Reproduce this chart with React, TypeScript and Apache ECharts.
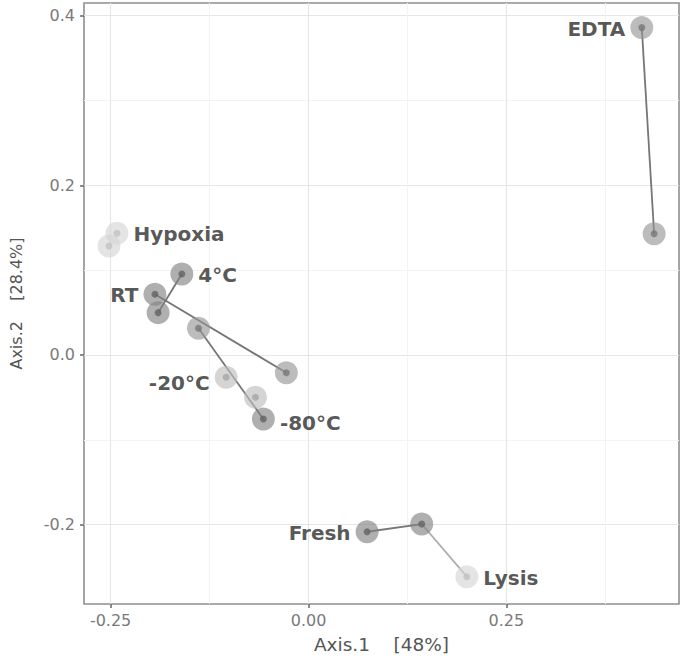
import React, { useEffect, useRef } from "react";
import * as echarts from "echarts";

// Ordination points (Axis.1, Axis.2) and their grey shade level
const pointX = [0.421, 0.4366, -0.242, -0.252, -0.16, -0.194, -0.19, -0.139, -0.028, -0.104, -0.067, -0.057, 0.074, 0.143, 0.2];
const pointY = [0.386, 0.143, 0.1435, 0.1285, 0.0955, 0.0716, 0.0499, 0.0315, -0.0209, -0.0263, -0.0499, -0.0755, -0.2084, -0.1993, -0.2614];
const pointShade = ["mid", "mid", "light", "light", "dark", "dark", "dark", "mid", "mid", "pale", "pale", "dark", "dark", "dark", "light"];

// Segments joining paired samples (indices into the point arrays)
const segFrom = [0, 4, 5, 7, 12, 13];
const segTo = [1, 6, 8, 11, 13, 14];
const segShade = ["dark", "dark", "dark", "dark", "dark", "light"];

// Group labels attached to points
const labelText = ["EDTA", "Hypoxia", "4°C", "RT", "-20°C", "-80°C", "Fresh", "Lysis"];
const labelPoint = [0, 2, 4, 5, 9, 11, 12, 14];
const labelSide = ["left", "right", "right", "left", "left", "right", "left", "right"];

const xMajor = [-0.25, 0, 0.25];
const xMinor = [-0.125, 0.125, 0.375];
const yMajor = [-0.2, 0, 0.2, 0.4];
const yMinor = [-0.1, 0.1, 0.3];

const xTitle = "Axis.1    [48%]";
const yTitle = "Axis.2    [28.4%]";

const outerColor: Record<string, string> = {
  dark: "rgba(130,130,130,0.8)",
  mid: "rgba(150,150,150,0.8)",
  pale: "rgba(190,190,190,0.8)",
  light: "rgba(212,212,212,0.8)",
};
const innerColor: Record<string, string> = {
  dark: "#636363",
  mid: "#777777",
  pale: "#a6a6a6",
  light: "#c2c2c2",
};
const segColor: Record<string, string> = { dark: "#767676", light: "#adadad" };

const FONT = "DejaVu Sans";

export default function App() {
  const ref = useRef<HTMLDivElement>(null);
  useEffect(() => {
    if (!ref.current) return;
    const chart = echarts.init(ref.current, null, { renderer: "svg" });

    const labelMap: Record<number, { text: string; side: string }> = {};
    labelPoint.forEach((p, i) => (labelMap[p] = { text: labelText[i], side: labelSide[i] }));

    const outerData = pointX.map((x, i) => {
      const item: any = {
        value: [x, pointY[i]],
        itemStyle: { color: outerColor[pointShade[i]] },
      };
      if (labelMap[i]) {
        item.label = {
          show: true,
          formatter: labelMap[i].text,
          position: labelMap[i].side,
          distance: 5,
          offset: labelMap[i].text === "-20°C" ? [0, 6] : labelMap[i].text === "-80°C" ? [0, 4] : [0, 1],
        };
      }
      return item;
    });
    const innerData = pointX.map((x, i) => ({
      value: [x, pointY[i]],
      itemStyle: { color: innerColor[pointShade[i]] },
    }));

    const segSeries = segFrom.map((f, k) => ({
      type: "line",
      xAxisIndex: 0,
      yAxisIndex: 0,
      data: [
        [pointX[f], pointY[f]],
        [pointX[segTo[k]], pointY[segTo[k]]],
      ],
      symbol: "none",
      lineStyle: { color: segColor[segShade[k]], width: 1.8 },
      silent: true,
      z: 2,
    }));

    const axisCommon = {
      type: "value",
      axisLine: { show: false, onZero: false },
    };

    chart.setOption({
      animation: false,
      grid: {
        left: 80,
        right: 6,
        top: 3,
        bottom: 56,
        show: true,
        borderColor: "#8f8f8f",
        borderWidth: 1.6,
        backgroundColor: "transparent",
      },
      xAxis: [
        {
          ...axisCommon,
          min: -0.2836,
          max: 0.468,
          position: "bottom",
          axisTick: { show: true, customValues: xMajor, length: 4, lineStyle: { color: "#666", width: 1.5 } },
          axisLabel: {
            customValues: xMajor,
            formatter: (v: number) => v.toFixed(2),
            color: "#7a7a7a",
            fontFamily: FONT,
            fontSize: 16,
            margin: 8,
          },
          splitLine: { show: true, lineStyle: { color: "#e6e6e6", width: 1.2 } },
          name: xTitle,
          nameLocation: "middle",
          nameGap: 31,
          nameTextStyle: { color: "#555", fontFamily: FONT, fontSize: 18.5 },
        },
        {
          ...axisCommon,
          min: -0.2836,
          max: 0.468,
          position: "top",
          axisTick: { show: false, customValues: xMinor },
          axisLabel: { show: false, customValues: xMinor },
          splitLine: { show: true, lineStyle: { color: "#f3f3f3", width: 1 } },
        },
      ],
      yAxis: [
        {
          ...axisCommon,
          min: -0.2936,
          max: 0.415,
          position: "left",
          axisTick: { show: true, customValues: yMajor, length: 4, lineStyle: { color: "#666", width: 1.5 } },
          axisLabel: {
            customValues: yMajor,
            formatter: (v: number) => v.toFixed(1),
            color: "#7a7a7a",
            fontFamily: FONT,
            fontSize: 16,
            margin: 9,
          },
          splitLine: { show: true, lineStyle: { color: "#e6e6e6", width: 1.2 } },
          name: yTitle,
          nameLocation: "middle",
          nameGap: 60,
          nameTextStyle: { color: "#555", fontFamily: FONT, fontSize: 16 },
        },
        {
          ...axisCommon,
          min: -0.2936,
          max: 0.415,
          position: "right",
          axisTick: { show: false, customValues: yMinor },
          axisLabel: { show: false, customValues: yMinor },
          splitLine: { show: true, lineStyle: { color: "#f3f3f3", width: 1 } },
        },
      ],
      series: [
        ...segSeries,
        {
          type: "scatter",
          xAxisIndex: 0,
          yAxisIndex: 0,
          symbolSize: 23,
          data: outerData,
          z: 3,
          label: {
            color: "#2b2b2b",
            fontFamily: FONT,
            fontWeight: "bold",
            fontSize: 20,
          },
          emphasis: { disabled: true },
        },
        {
          type: "scatter",
          xAxisIndex: 0,
          yAxisIndex: 0,
          symbolSize: 7,
          data: innerData,
          z: 4,
          silent: true,
        },
      ],
    } as any);
    return () => chart.dispose();
  }, []);
  return <div ref={ref} style={{ width: 685, height: 660, position: "absolute", left: 0, top: 0 }} />;
}
